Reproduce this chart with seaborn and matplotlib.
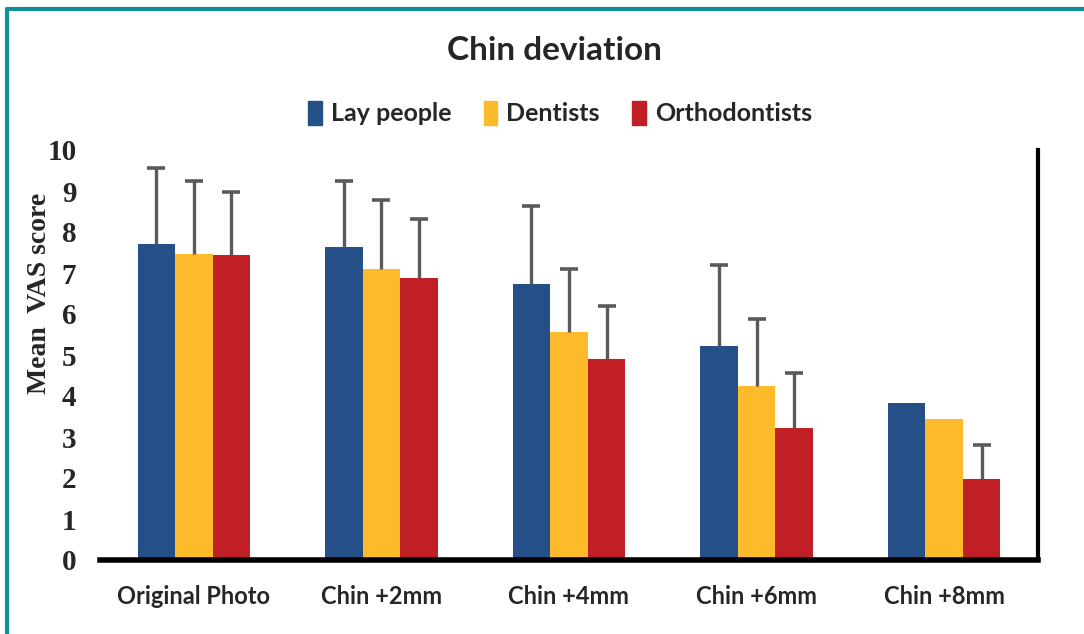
import numpy as np
import pandas as pd
import matplotlib
matplotlib.use("Agg")
import matplotlib.pyplot as plt
import seaborn as sns
from matplotlib.lines import Line2D

categories = ["Original Photo", "Chin +2mm", "Chin +4mm", "Chin +6mm", "Chin +8mm"]
groups = ["Lay people", "Dentists", "Orthodontists"]
lay_mean = [7.70, 7.63, 6.73, 5.22, 3.83]
dent_mean = [7.46, 7.10, 5.56, 4.24, 3.44]
orth_mean = [7.44, 6.88, 4.90, 3.22, 1.98]
lay_sd = [1.86, 1.61, 1.90, 1.98, np.nan]
dent_sd = [1.78, 1.68, 1.54, 1.64, np.nan]
orth_sd = [1.54, 1.44, 1.30, 1.34, 0.82]
yticks = list(range(0, 11))
colors = ["#254F87", "#FDBA2A", "#C01F25"]

sns.set_style("white")
plt.rcParams["font.family"] = ["Lato", "DejaVu Sans"]

df = pd.DataFrame({
    "cat": categories * 3,
    "group": [g for g in groups for _ in categories],
    "mean": lay_mean + dent_mean + orth_mean,
})
sds = [lay_sd, dent_sd, orth_sd]

fig = plt.figure(figsize=(10.84, 6.34), dpi=100)
ax = fig.add_axes([100 / 1084, 1 - 560 / 634, 938 / 1084, 410 / 634])

sns.barplot(data=df, x="cat", y="mean", hue="group", order=categories,
            hue_order=groups, palette=colors, width=0.6, errorbar=None,
            saturation=1, ax=ax, legend=False, edgecolor="none", zorder=2)

for cont, sd in zip(ax.containers, sds):
    xs = np.array([p.get_x() + p.get_width() / 2 for p in cont])
    hs = np.array([p.get_height() for p in cont])
    sd = np.array(sd, dtype=float)
    tops = hs + sd
    ok = ~np.isnan(sd)
    ax.vlines(xs[ok], hs[ok], tops[ok], color="#5A5A5A", linewidth=2.4, zorder=3)
    ax.plot(xs[ok], tops[ok], linestyle="none", marker="_", markersize=13,
            markeredgewidth=2.6, color="#5A5A5A", zorder=3)

ax.set_xlim(-0.5, 4.5)
ax.set_ylim(0, 10)
ax.set_yticks(yticks)
ax.set_yticklabels([str(t) for t in yticks], fontfamily="Liberation Serif",
                   fontweight="bold", fontsize=21)
ax.tick_params(axis="y", length=0, pad=17)
ax.tick_params(axis="x", length=0, pad=18)
for lbl in ax.get_xticklabels():
    lbl.set_fontweight("bold")
    lbl.set_fontsize(17)
ax.set_xlabel("")
ax.set_ylabel("Mean  VAS score", fontfamily="Liberation Serif",
              fontweight="bold", fontsize=20)
ax.yaxis.set_label_coords(-0.051, 0.651)

for s in ["top", "left"]:
    ax.spines[s].set_visible(False)
ax.spines["bottom"].set_color("black")
ax.spines["bottom"].set_linewidth(4)
ax.spines["right"].set_color("black")
ax.spines["right"].set_linewidth(3)
ax.spines["right"].set_bounds(0, 10)

fig.text(554 / 1084, 1 - 50 / 634, "Chin deviation", ha="center", va="center",
         fontsize=24, fontweight="bold")

handles = [plt.Rectangle((0, 0), 1, 1, color=c) for c in colors]
leg = fig.legend(handles, groups, loc="center", bbox_to_anchor=(560 / 1084, 1 - 113 / 634),
                 ncol=3, frameon=False, handlelength=0.55, handleheight=1.1,
                 handletextpad=0.35, columnspacing=1.3,
                 prop={"weight": "bold", "size": 18})

# teal frame
fig.add_artist(Line2D([7 / 1084, 7 / 1084], [0, 1 - 9 / 634], transform=fig.transFigure,
                      color="#11909A", linewidth=3))
fig.add_artist(Line2D([7 / 1084, 1], [1 - 9 / 634, 1 - 9 / 634], transform=fig.transFigure,
                      color="#11909A", linewidth=3))

fig.savefig("out.png", dpi=100)
